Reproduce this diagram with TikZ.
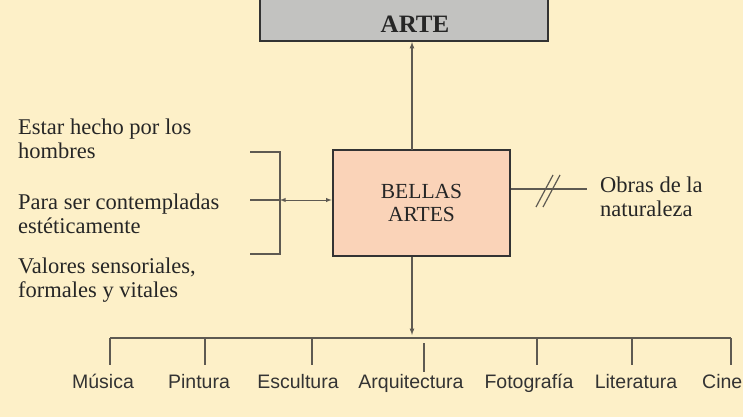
\documentclass[tikz,border=0pt]{standalone}
\usepackage{fontspec}
\setmainfont{Liberation Serif}
\newfontfamily\catfont{Liberation Sans}
\usetikzlibrary{arrows,calc}
\definecolor{fondo}{HTML}{FDF0C8}
\definecolor{melocoton}{HTML}{FAD3B8}
\definecolor{gris}{HTML}{C2C2C0}
\definecolor{trazo}{HTML}{5E5A52}
\tikzset{>=latex,
  caja/.style={draw=black!80, line width=2.6pt, inner sep=0pt},
  rasgo/.style={anchor=west, align=left, inner sep=0pt, text=black!85,
    font=\fontsize{22.5}{24}\selectfont},
  arte/.style={anchor=base, inner sep=0pt, text=black!80,
    font=\catfont\fontsize{19.5}{22}\selectfont},
  linea/.style={draw=trazo, line width=1.2pt}
}

\begin{document}
\begin{tikzpicture}[x=1pt, y=-1pt]
  \path[use as bounding box, fill=fondo] (0,0) rectangle (743,417);
  \clip (0,0) rectangle (743,417);
  % cajas
  \node [caja, fill=gris, minimum width=288pt, minimum height=60pt] (arte) at (404,11) {};
  \node [inner sep=0pt, font=\bfseries\fontsize{25}{28}\selectfont, text=black!85] at (415,24) {ARTE};
  \node [caja, fill=melocoton, minimum width=177pt, minimum height=106pt, align=center,
    font=\fontsize{21.5}{23}\selectfont, text=black!85] (bellas) at (421.5,203) {BELLAS\\ARTES};
  \draw [linea, ->] (412,150) -- (412,42);
  % rasgos
  \node [rasgo] (hecho) at (18,139) {Estar hecho por los\\hombres};
  \node [rasgo] (contemplar) at (18,214) {Para ser contempladas\\estéticamente};
  \node [rasgo] (valores) at (18,280) {Valores sensoriales,\\formales y vitales};
  \node [rasgo] (obras) at (600,197) {Obras de la\\naturaleza};
  \coordinate (llave) at (280,200);
  \draw [linea] (250,152) -- (280,152) -- (280,254) -- (250,254);
  \draw [linea] (250,200) -- (llave);
  \draw [linea, <->, line width=0.9pt] (llave) -- (bellas.west |- llave);
  % no son bellas artes
  \coordinate (corte) at (587,189);
  \draw [linea] (bellas.east |- corte) -- (corte);
  \draw [linea] (536,207) -- (553,175);
  \draw [linea] (543,207) -- (560,175);
  % ramas
  \coordinate (barra) at (412,338);
  \draw [linea, ->] (bellas.south -| barra) -- ($(barra)+(0,-3)$);
  \draw [linea] (110,338) -- (731,338);
  \foreach \nombre/\lx/\x/\y/\largo in {Música/103/110/338/27, Pintura/199/205/338/27,
      Escultura/298/312/338/27, Arquitectura/411/424/343/29, Fotografía/529/537/338/27,
      Literatura/636/632/338/27}{
    \node [arte] (\nombre) at (\lx,388) {\nombre};
    \draw [linea] (\x,\y) -- (\x,\y+\largo);
  }
  \node [arte, anchor=base west] (Cine) at (702,388) {Cine};
  \draw [linea] (731,338) -- (731,365);
\end{tikzpicture}
\end{document}
